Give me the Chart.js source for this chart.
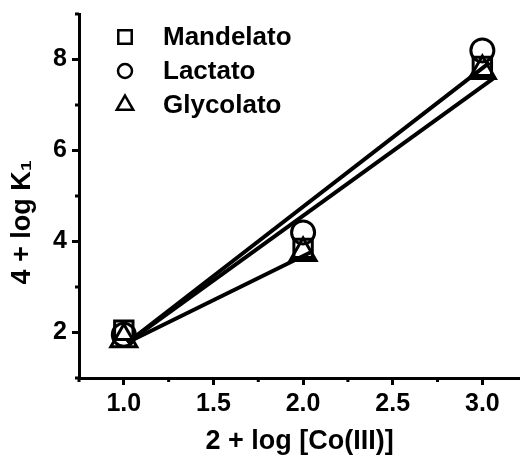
<!DOCTYPE html>
<html>
<head>
<meta charset="utf-8">
<script src="https://cdn.jsdelivr.net/npm/chart.js@4"></script>
<style>
  html, body { margin: 0; padding: 0; background: #fff; }
</style>
</head>
<body>
<canvas id="chart" width="520" height="459"></canvas>
<script>
// data
const xValues = [1, 2, 3];
const mandelato = [2.05, 3.85, 7.85];
const lactato = [1.95, 4.2, 8.2];
const glycolato = [1.85, 3.75, 7.75];

// the three straight lines
const lineAX = [1.02, 3.04], lineAY = [1.78, 7.93];
const lineBX = [1.02, 3.06], lineBY = [1.78, 7.58];
const lineCX = [1.02, 2.04], lineCY = [1.78, 3.76];

const xTicks = [1.0, 1.5, 2.0, 2.5, 3.0];
const xMinor = [0.75, 1.25, 1.75, 2.25, 2.75];
const yTicks = [2, 4, 6, 8];
const yMinor = [1, 3, 5, 7, 9];

const pts = (xs, ys) => xs.map((x, i) => ({x: x, y: ys[i]}));
const FONT = 'Liberation Sans, Arial, sans-serif';

function marker(label, ys, style, radius, order) {
    return {
        label: label,
        data: pts(xValues, ys),
        pointStyle: style,
        pointRadius: radius,
        pointHoverRadius: radius,
        pointBorderWidth: 3,
        pointBorderColor: '#000',
        pointBackgroundColor: 'rgba(0,0,0,0)',
        showLine: false,
        clip: false,
        order: order
    };
}

function line(xs, ys) {
    return {
        data: pts(xs, ys),
        showLine: true,
        borderColor: '#000',
        borderWidth: 4,
        pointRadius: 0,
        clip: false,
        order: 0
    };
}

// minor ticks, placed through the scales
const minorTicks = {
    id: 'minorTicks',
    afterDraw(chart) {
        const ctx = chart.ctx;
        const xs = chart.scales.x, ys = chart.scales.y;
        ctx.save();
        ctx.strokeStyle = '#000';
        ctx.lineWidth = 3;
        ctx.beginPath();
        xMinor.forEach(v => {
            const px = xs.getPixelForValue(v);
            ctx.moveTo(px, xs.top);
            ctx.lineTo(px, xs.top + 4);
        });
        yMinor.forEach(v => {
            const py = ys.getPixelForValue(v);
            ctx.moveTo(ys.right, py);
            ctx.lineTo(ys.right - 4, py);
        });
        ctx.stroke();
        ctx.restore();
    }
};

// legend inside the plot, top left
const innerLegend = {
    id: 'innerLegend',
    afterDraw(chart) {
        const ctx = chart.ctx;
        const sets = chart.data.datasets.filter(d => d.label);
        ctx.save();
        ctx.font = 'bold 26px ' + FONT;
        ctx.textBaseline = 'middle';
        sets.forEach((d, i) => {
            const y = 37 + i * 34;
            ctx.strokeStyle = '#000';
            ctx.lineWidth = 2.5;
            ctx.fillStyle = 'rgba(0,0,0,0)';
            Chart.helpers.drawPoint(ctx, {
                pointStyle: d.pointStyle,
                radius: d.pointStyle === 'circle' ? 7 : 9.5,
                rotation: 0,
                borderWidth: 2.5
            }, 125, y);
            ctx.fillStyle = '#000';
            ctx.fillText(d.label, 163, y + 1);
        });
        ctx.restore();
    }
};

new Chart(document.getElementById('chart'), {
    type: 'scatter',
    data: {
        datasets: [
            line(lineAX, lineAY),
            line(lineBX, lineBY),
            line(lineCX, lineCY),
            marker('Mandelato', mandelato, 'rect', 13, 3),
            marker('Lactato', lactato, 'circle', 11.5, 2),
            marker('Glycolato', glycolato, 'triangle', 15, 1)
        ]
    },
    options: {
        responsive: false,
        animation: false,
        layout: { autoPadding: false, padding: { top: 14, right: 0, left: 0, bottom: 0 } },
        plugins: {
            legend: { display: false },
            tooltip: { enabled: false }
        },
        scales: {
            x: {
                type: 'linear',
                min: 0.75,
                max: 3.21,
                afterBuildTicks: s => { s.ticks = xTicks.map(v => ({value: v})); },
                afterFit: s => { s.height = 81; s.paddingLeft = 0; s.paddingRight = 0; },
                ticks: {
                    callback: v => v.toFixed(1),
                    font: { family: FONT, size: 25, weight: 'bold' },
                    color: '#000',
                    padding: 4,
                    maxRotation: 0
                },
                grid: { drawOnChartArea: false, tickLength: 7, tickWidth: 3, tickColor: '#000' },
                border: { color: '#000', width: 3 },
                title: {
                    display: true,
                    text: '2 + log [Co(III)]',
                    font: { family: FONT, size: 27, weight: 'bold' },
                    color: '#000',
                    padding: { top: 0, bottom: 1 }
                }
            },
            y: {
                min: 1,
                max: 9,
                afterBuildTicks: s => { s.ticks = yTicks.map(v => ({value: v})); },
                afterFit: s => { s.width = 79; s.paddingTop = 0; s.paddingBottom = 0; },
                ticks: {
                    callback: v => String(v),
                    font: { family: FONT, size: 25, weight: 'bold' },
                    color: '#000',
                    padding: 5
                },
                grid: { drawOnChartArea: false, tickLength: 7, tickWidth: 3, tickColor: '#000' },
                border: { color: '#000', width: 3 },
                title: {
                    display: true,
                    text: '4 + log K\u2081       ',
                    font: { family: FONT, size: 27, weight: 'bold' },
                    color: '#000',
                    padding: { top: 6, bottom: 0 }
                }
            }
        }
    },
    plugins: [minorTicks, innerLegend]
});
</script>
</body>
</html>
